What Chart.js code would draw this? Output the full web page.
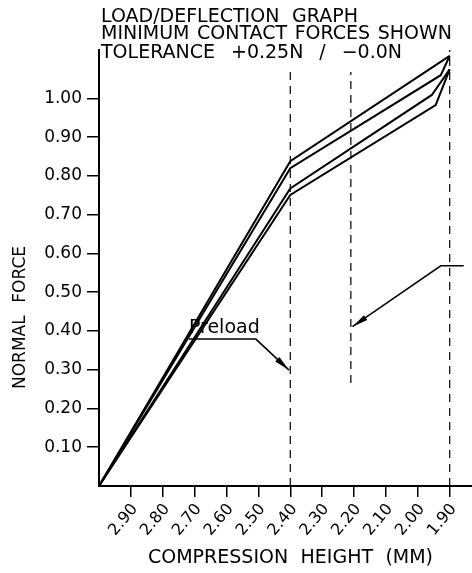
<!DOCTYPE html>
<html>
<head>
<meta charset="utf-8">
<script src="https://cdn.jsdelivr.net/npm/chart.js@4.4.1/dist/chart.umd.min.js"></script>
<style>
  html, body { margin: 0; padding: 0; background: #fff; }
  #caixa { width: 472px; height: 573px; }
</style>
</head>
<body>
<div id="caixa"><canvas id="grafico"></canvas></div>
<script>
// eixo x invertido: altura de compressao (mm)
const xTicks = [2.90, 2.80, 2.70, 2.60, 2.50, 2.40, 2.30, 2.20, 2.10, 2.00, 1.90];
const yTicks = [0.10, 0.20, 0.30, 0.40, 0.50, 0.60, 0.70, 0.80, 0.90, 1.00];

// quatro curvas de forca normal
const xCurva1 = [3.00, 2.40, 1.90];
const yCurva1 = [0, 0.838, 1.110];
const xCurva2 = [3.00, 2.40, 1.928, 1.90];
const yCurva2 = [0, 0.820, 1.060, 1.110];
const xCurva3 = [3.00, 2.40, 1.956, 1.90];
const yCurva3 = [0, 0.768, 1.009, 1.075];
const xCurva4 = [3.00, 2.40, 1.944, 1.90];
const yCurva4 = [0, 0.751, 0.983, 1.075];

// linhas tracejadas verticais
const xTracejado = [2.40, 2.21, 1.90];
const yTracejadoTopo = [1.068, 1.068, 1.125];
const yTracejadoBase = [0, 0.266, 0];

const titulo = ["LOAD/DEFLECTION GRAPH", "MINIMUM CONTACT FORCES SHOWN", "TOLERANCE +0.25N / \u22120.0N"];
const tituloY = "NORMAL FORCE";
const tituloX = "COMPRESSION HEIGHT (MM)";

// setas de anotacao (unidades dos dados)
const preloadTexto = "Preload";
const preloadPos = [2.718, 0.395];
const xSetaPreload = [2.718, 2.508, 2.404];
const ySetaPreload = [0.379, 0.379, 0.299];
const xSeta2 = [1.856, 1.928, 2.205];
const ySeta2 = [0.568, 0.568, 0.411];

const pontos = (xs, ys) => xs.map((v, i) => ({ x: v, y: ys[i] }));

const curvas = [[xCurva1, yCurva1], [xCurva2, yCurva2], [xCurva3, yCurva3], [xCurva4, yCurva4]].map(c => ({
  data: pontos(c[0], c[1]),
  borderColor: "#000",
  borderWidth: 2,
  pointRadius: 0,
  tension: 0,
  fill: false
}));

const tracejados = xTracejado.map((v, i) => ({
  data: [{ x: v, y: yTracejadoBase[i] }, { x: v, y: yTracejadoTopo[i] }],
  borderColor: "#000",
  borderWidth: 1.2,
  borderDash: [8, 6],
  pointRadius: 0,
  fill: false
}));

// escreve as palavras espalhadas numa largura fixa (texto de CAD tem espacos largos)
function textoLargo(ctx, texto, x0, y0, largura) {
  const palavras = texto.split(" ");
  const larguras = palavras.map(p => ctx.measureText(p).width);
  const soma = larguras.reduce((s, w) => s + w, 0);
  const folga = palavras.length > 1 ? (largura - soma) / (palavras.length - 1) : 0;
  let cx = x0;
  palavras.forEach((p, i) => {
    ctx.fillText(p, cx, y0);
    cx += larguras[i] + folga;
  });
}

function seta(ctx, x, y, xs, ys) {
  const px = xs.map(v => x.getPixelForValue(v));
  const py = ys.map(v => y.getPixelForValue(v));
  ctx.beginPath();
  ctx.moveTo(px[0], py[0]);
  for (let i = 1; i < px.length; i++) ctx.lineTo(px[i], py[i]);
  ctx.stroke();
  const n = px.length - 1;
  const ang = Math.atan2(py[n] - py[n - 1], px[n] - px[n - 1]);
  const len = 16, larg = 3;
  ctx.beginPath();
  ctx.moveTo(px[n], py[n]);
  ctx.lineTo(px[n] - len * Math.cos(ang) - larg * Math.sin(ang), py[n] - len * Math.sin(ang) + larg * Math.cos(ang));
  ctx.lineTo(px[n] - len * Math.cos(ang) + larg * Math.sin(ang), py[n] - len * Math.sin(ang) - larg * Math.cos(ang));
  ctx.closePath();
  ctx.fill();
}

const anotacoes = {
  id: "anotacoes",
  afterDraw(chart) {
    const { ctx, chartArea, scales: { x, y } } = chart;
    ctx.save();
    ctx.fillStyle = "#000";
    ctx.strokeStyle = "#000";
    ctx.lineWidth = 1.5;
    ctx.textAlign = "left";
    ctx.textBaseline = "alphabetic";

    // titulo em tres linhas
    ctx.font = "19px 'DejaVu Sans'";
    const bases = [22, 39, 58];
    const larguras = [257, 351, 301];
    titulo.forEach((t, i) => textoLargo(ctx, t, chartArea.left + 2, bases[i], larguras[i]));

    // titulo do eixo y
    ctx.save();
    ctx.font = "17px 'DejaVu Sans'";
    ctx.translate(25, 318);
    ctx.rotate(-Math.PI / 2);
    textoLargo(ctx, tituloY, -71, 0, 143);
    ctx.restore();

    // titulo do eixo x
    ctx.font = "19px 'DejaVu Sans'";
    textoLargo(ctx, tituloX, 148, 563, 285);

    // preload
    ctx.font = "19px 'DejaVu Sans'";
    ctx.fillText(preloadTexto, x.getPixelForValue(preloadPos[0]), y.getPixelForValue(preloadPos[1]));
    seta(ctx, x, y, xSetaPreload, ySetaPreload);
    seta(ctx, x, y, xSeta2, ySeta2);
    ctx.restore();
  }
};

new Chart(document.getElementById("grafico"), {
  type: "line",
  data: { datasets: curvas.concat(tracejados) },
  options: {
    responsive: true,
    maintainAspectRatio: false,
    animation: false,
    layout: { padding: { top: 50, right: 0, left: 0, bottom: 0 } },
    plugins: { legend: { display: false }, tooltip: { enabled: false } },
    scales: {
      x: {
        type: "linear",
        reverse: true,
        min: 1.83,
        max: 3.00,
        afterBuildTicks: s => { s.ticks = xTicks.map(v => ({ value: v })); },
        afterFit: s => { s.height = 87; },
        ticks: {
          color: "#000",
          font: { family: "DejaVu Sans", size: 16 },
          minRotation: 50,
          maxRotation: 50,
          padding: 3,
          labelOffset: 4,
          callback: v => v.toFixed(2)
        },
        grid: { drawOnChartArea: false, drawTicks: true, tickLength: 11, color: "#000", lineWidth: 1.5 },
        border: { display: true, color: "#000", width: 2 }
      },
      y: {
        type: "linear",
        min: 0,
        max: 1.125,
        afterBuildTicks: s => { s.ticks = yTicks.map(v => ({ value: v })); },
        afterFit: s => { s.width = 99; },
        ticks: {
          color: "#000",
          font: { family: "DejaVu Sans", size: 17 },
          padding: 5,
          callback: v => v.toFixed(2)
        },
        grid: { drawOnChartArea: false, drawTicks: true, tickLength: 12, color: "#000", lineWidth: 1.5 },
        border: { display: true, color: "#000", width: 2 }
      }
    }
  },
  plugins: [anotacoes]
});
</script>
</body>
</html>
